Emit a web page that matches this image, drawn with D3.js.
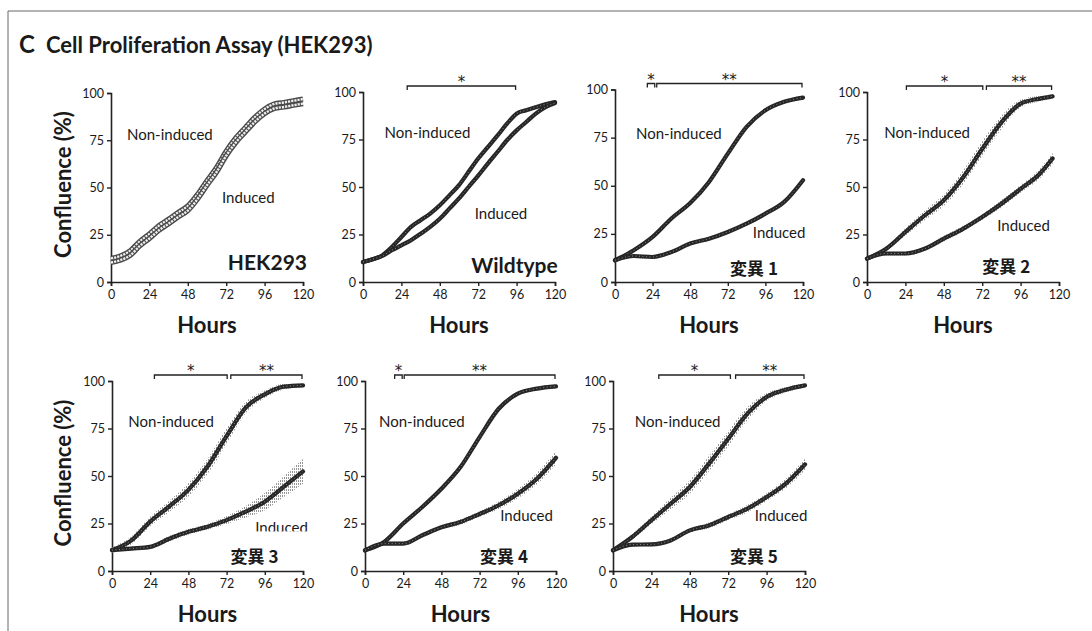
<!DOCTYPE html>
<html>
<head>
<meta charset="utf-8">
<script src="https://cdn.jsdelivr.net/npm/d3@7"></script>
<style>
  body { margin: 0; background: #fff; }
  svg { display: block; }
  text { font-family: Lato, "Open Sans", sans-serif; fill: #1a1a1a; }
  .cjk { font-family: "Noto Sans CJK JP", sans-serif; }
</style>
</head>
<body>
<div class="article"></div>
<script>
// Confluence (%), one array per curve
var hours6 = [0, 6, 12, 18, 24, 30, 36, 42, 48, 54, 60, 66, 72, 78, 84, 90, 96, 102, 108, 114, 120];
var hours12 = [0, 12, 24, 36, 48, 60, 72, 84, 96, 108, 120];
var hoursShort = [0, 12, 24, 36, 48, 60, 72, 84, 96, 108, 116];

var hekNon = [12.5, 13.8, 16.5, 21.5, 25.4, 29.8, 33.2, 36.8, 40.2, 46.2, 53.6, 60.6, 69.2, 76.2, 81.8, 87.2, 91.5, 94.2, 95, 95.9, 96.8];
var hekInd = [10.3, 11.6, 14.1, 19.1, 23, 27.4, 30.8, 34.4, 37.8, 43.8, 51.2, 58.2, 66.8, 73.8, 79.4, 84.8, 89.1, 91.8, 92.6, 93.5, 94.4];

var wtNon = [10.5, 12, 14, 18.4, 23.7, 29, 32.5, 36, 40.4, 45.6, 51, 58, 65, 71, 77, 83.3, 88.6, 90.4, 92, 93.5, 94.7];
var wtInd = [10.5, 12, 13.7, 16.7, 19.3, 22, 25.4, 29, 33.3, 38.6, 44, 50, 56, 62.3, 68.4, 74.6, 79.8, 84.2, 88.6, 92, 94.2];

var m1Non = [11.3, 16.5, 23.4, 33, 41, 52, 66.7, 80.6, 89.2, 93.6, 95.8];
var m1Ind = [11.3, 13.5, 13, 15.6, 20, 22.5, 26, 30.3, 35.5, 41.6, 52.9];

var m2Non = [12.3, 17.5, 26.3, 35, 43, 55, 70, 84, 93.9, 96.5, 97.7];
var m2Ind = [12.3, 15, 15, 17.5, 22.8, 28, 34.2, 41.2, 49, 57, 65];
var m2NonErr = [1, 1, 2, 2.5, 3, 3.5, 4, 3.5, 2, 1.5, 1];
var m2IndErr = [1, 1, 1, 1, 1.5, 1.5, 1.5, 2, 2, 2.5, 3];

var m3Non = [11, 16, 26, 34, 42.7, 55, 71, 86, 93, 97, 97.7];
var m3Ind = [11, 11.8, 12.7, 17, 20.6, 23.3, 26.8, 31.2, 36.5, 44.4, 52.4];
var m3NonErr = [1.5, 2, 2.5, 3, 3.5, 4, 4, 3, 2, 1.5, 1];
var m3IndErr = [1, 1, 1, 1.5, 1.5, 1.5, 2, 3, 4.5, 5.5, 6.5];

var m4Non = [10.9, 15.3, 25, 33.7, 43.3, 54.7, 70.5, 85.4, 93.3, 96, 97.2];
var m4Ind = [10.9, 14.4, 14.4, 18.8, 23, 25.8, 30, 34.6, 40.7, 48.6, 59.6];
var m4IndErr = [1, 1, 1, 1, 1, 1.5, 1.5, 2, 2.5, 3, 3.5];

var m5Non = [10.9, 17.9, 26.7, 35.4, 44.2, 56.5, 69.6, 82.8, 91.6, 95.4, 97.7];
var m5Ind = [10.9, 13.9, 14, 16.1, 21.4, 24, 28.4, 32.8, 38.9, 46, 56.1];
var m5NonErr = [1, 1.5, 2, 3, 3.5, 4, 4, 3.5, 2, 1.5, 1];
var m5IndErr = [1, 1, 1, 1, 1, 1.5, 1.5, 2, 2, 2.5, 3];

var smallErr = [1, 1, 1, 1, 1, 1, 1, 1, 1, 1, 1];

var xTicks = [0, 24, 48, 72, 96, 120];
var yTicks = [0, 25, 50, 75, 100];

// significance brackets: [from hour, to hour, stars]
var wtSig = [[27, 96, "*"]];
var m1Sig = [[20, 26, "*"], [26, 120, "**"]];
var m2Sig = [[24, 73, "*"], [74, 116, "**"]];
var m3Sig = [[26, 73, "*"], [74, 120, "**"]];
var m4Sig = [[18, 24, "*"], [24, 120, "**"]];
var m5Sig = [[28, 74, "*"], [76, 120, "**"]];

// panel layout (pixels) and series wiring
var panels = [
  { name: "HEK293", cjk: false, hours: hours6, non: hekNon, ind: hekInd, hollow: true, sig: [],
    left: 111, right: 303, top: 93, bottom: 282, yLabel: true,
    nonAt: [10, 78], indAt: [69.4, 44.6], nameAt: [122.5, 6.5] },
  { name: "Wildtype", cjk: false, hours: hours6, non: wtNon, ind: wtInd, sig: wtSig,
    left: 363, right: 555, top: 92, bottom: 282,
    nonAt: [13.5, 78.3], indAt: [69.8, 36], nameAt: [121.7, 5] },
  { name: "変異 1", cjk: true, hours: hours12, non: m1Non, ind: m1Ind, sig: m1Sig,
    left: 615, right: 803, top: 89.5, bottom: 282,
    nonAt: [13.4, 77.2], indAt: [88, 25.8], nameAt: [104, 3.5] },
  { name: "変異 2", cjk: true, hours: hoursShort, non: m2Non, ind: m2Ind, nonErr: m2NonErr, indErr: m2IndErr, sig: m2Sig,
    left: 867, right: 1059, top: 92, bottom: 282,
    nonAt: [10.8, 78.3], indAt: [81.4, 29.8], nameAt: [102, 4.6] },
  { name: "変異 3", cjk: true, hours: hours12, non: m3Non, ind: m3Ind, nonErr: m3NonErr, indErr: m3IndErr, sig: m3Sig,
    left: 112, right: 303, top: 381, bottom: 571, yLabel: true, cover: true,
    nonAt: [10.2, 78.8], indAt: [90, 22.6], nameAt: [104.6, 4] },
  { name: "変異 4", cjk: true, hours: hours12, non: m4Non, ind: m4Ind, indErr: m4IndErr, sig: m4Sig,
    left: 365, right: 556, top: 381, bottom: 571,
    nonAt: [8.8, 78.8], indAt: [85, 29], nameAt: [102.4, 4] },
  { name: "変異 5", cjk: true, hours: hours12, non: m5Non, ind: m5Ind, nonErr: m5NonErr, indErr: m5IndErr, sig: m5Sig,
    left: 613, right: 805, top: 381, bottom: 571,
    nonAt: [13.6, 78.8], indAt: [88.6, 29], nameAt: [103, 4] }
];

var svgWidth = 1092;
var svgHeight = 631;

var svg = d3.select(".article")
  .append("svg")
  .attr("width", svgWidth)
  .attr("height", svgHeight);

// hatch for the error bars
var defs = svg.append("defs");
var hatch = defs.append("pattern")
  .attr("id", "hatch")
  .attr("patternUnits", "userSpaceOnUse")
  .attr("width", 2)
  .attr("height", 3);
hatch.append("rect")
  .attr("width", 1)
  .attr("height", 2)
  .attr("fill", "#8a8a8a");

// frame of the figure
svg.append("line")
  .attr("x1", 8).attr("y1", 11).attr("x2", svgWidth).attr("y2", 11)
  .attr("stroke", "#666").attr("stroke-width", 1);
svg.append("line")
  .attr("x1", 8).attr("y1", 11).attr("x2", 8).attr("y2", svgHeight)
  .attr("stroke", "#666").attr("stroke-width", 1);

svg.append("text")
  .attr("x", 19).attr("y", 53)
  .style("font-size", "24px").style("font-weight", "bold")
  .text("C");
svg.append("text")
  .attr("x", 46).attr("y", 53)
  .style("font-size", "22px").style("font-weight", "bold")
  .text("Cell Proliferation Assay (HEK293)");

panels.forEach(function(p) {
  var g = svg.append("g");

  var xScale = d3.scaleLinear().domain([0, 120]).range([p.left, p.right]);
  var yScale = d3.scaleLinear().domain([0, 100]).range([p.bottom, p.top]);

  var bottomAxis = d3.axisBottom(xScale).tickValues(xTicks).tickSize(4).tickPadding(4);
  var leftAxis = d3.axisLeft(yScale).tickValues(yTicks).tickSize(4).tickPadding(3);

  var xAxisG = g.append("g")
    .attr("transform", `translate(0, ${p.bottom})`)
    .call(bottomAxis);
  var yAxisG = g.append("g")
    .attr("transform", `translate(${p.left}, 0)`)
    .call(leftAxis);

  [xAxisG, yAxisG].forEach(function(a) {
    a.select(".domain").attr("stroke", "#222").attr("stroke-width", 1.6);
    a.selectAll(".tick line").attr("stroke", "#222").attr("stroke-width", 1.4);
    a.selectAll(".tick text")
      .style("font-family", "Lato, sans-serif")
      .style("font-size", "12.5px")
      .attr("fill", "#222");
  });

  // error bands
  var series = [
    { v: p.non, e: p.nonErr || smallErr },
    { v: p.ind, e: p.indErr || smallErr }
  ];

  series.forEach(function(s) {
    var rows = p.hours.map(function(h, i) {
      return { h: h, v: s.v[i], e: s.e[i] !== undefined ? s.e[i] : 1 };
    });
    var band = d3.area()
      .curve(d3.curveMonotoneX)
      .x(d => xScale(d.h))
      .y0(d => yScale(d.v - d.e))
      .y1(d => yScale(d.v + d.e));
    g.append("path")
      .attr("d", band(rows))
      .attr("fill", "url(#hatch)")
      .attr("opacity", p.hollow ? 0 : 0.9);
  });

  series.forEach(function(s) {
    var rows = p.hours.map(function(h, i) { return { h: h, v: s.v[i] }; });
    var drawLine = d3.line()
      .curve(d3.curveMonotoneX)
      .x(d => xScale(d.h))
      .y(d => yScale(d.v));

    if (p.hollow) {
      g.append("path")
        .attr("d", drawLine(rows))
        .attr("fill", "none")
        .attr("stroke", "#4a4a4a")
        .attr("stroke-width", 5.2);
      g.append("path")
        .attr("d", drawLine(rows))
        .attr("fill", "none")
        .attr("stroke", "#eeeeee")
        .attr("stroke-width", 2.4)
        .attr("stroke-dasharray", "2.2 1");
    } else {
      g.append("path")
        .attr("d", drawLine(rows))
        .attr("fill", "none")
        .attr("stroke", "#262626")
        .attr("stroke-width", 4.2)
        .attr("stroke-linecap", "round");
      g.append("path")
        .attr("d", drawLine(rows))
        .attr("fill", "none")
        .attr("stroke", "#8c8c8c")
        .attr("stroke-width", 1)
        .attr("stroke-dasharray", "1 2.5");
    }
  });

  // significance brackets
  var sigY = p.top - 6;
  p.sig.forEach(function(b) {
    var x1 = xScale(b[0]) + 1;
    var x2 = xScale(b[1]) - 1;
    g.append("path")
      .attr("d", `M${x1},${sigY + 4}V${sigY}H${x2}V${sigY + 4}`)
      .attr("fill", "none")
      .attr("stroke", "#222")
      .attr("stroke-width", 1.3);
    g.append("text")
      .attr("x", (x1 + x2) / 2)
      .attr("y", sigY + 1)
      .attr("text-anchor", "middle")
      .style("font-family", "'DejaVu Sans', sans-serif")
      .style("font-size", "15px")
      .text(b[2]);
  });

  g.append("text")
    .attr("x", xScale(p.nonAt[0]))
    .attr("y", yScale(p.nonAt[1]))
    .attr("dy", "0.35em")
    .style("font-size", "15px")
    .text("Non-induced");

  // white patch under the name label (it cuts into the text in the figure)
  if (p.cover) {
    g.append("rect")
      .attr("x", xScale(p.indAt[0]) - 2)
      .attr("y", yScale(p.nameAt[1]) - 32)
      .attr("width", 60)
      .attr("height", 30)
      .attr("fill", "#fff");
  }

  var indText = g.append("text")
    .attr("x", xScale(p.indAt[0]))
    .attr("y", yScale(p.indAt[1]))
    .attr("dy", "0.35em")
    .style("font-size", "15px")
    .text("Induced");
  if (p.cover) indText.lower();

  g.append("text")
    .attr("class", p.cjk ? "cjk" : null)
    .attr("x", xScale(p.nameAt[0]))
    .attr("y", yScale(p.nameAt[1]))
    .attr("text-anchor", "end")
    .style("font-size", p.cjk ? "17px" : "21px")
    .style("font-weight", "bold")
    .text(p.name);

  g.append("text")
    .attr("x", (p.left + p.right) / 2)
    .attr("y", p.bottom + 51)
    .attr("text-anchor", "middle")
    .style("font-size", "22px")
    .style("font-weight", "bold")
    .text("Hours");

  if (p.yLabel) {
    g.append("text")
      .attr("transform", `translate(63, ${(p.top + p.bottom) / 2 - 3}) rotate(-90)`)
      .attr("text-anchor", "middle")
      .attr("dy", "0.35em")
      .style("font-size", "22px")
      .style("font-weight", "bold")
      .text("Confluence (%)");
  }
});
</script>
</body>
</html>
